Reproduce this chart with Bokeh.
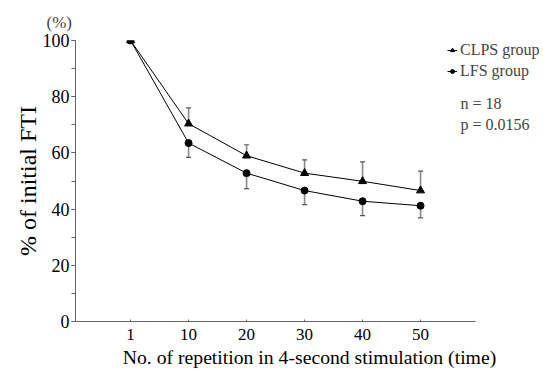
import numpy as np
from bokeh.plotting import figure
from bokeh.models import Label, Legend, LegendItem, FixedTicker, ColumnDataSource
from bokeh.embed import file_html
from bokeh.resources import INLINE

# ---- data ----
x_labels = ["1", "10", "20", "30", "40", "50"]
clps = [100, 70.4, 59.0, 52.8, 49.9, 46.6]
clps_err = [0, 5.6, 3.9, 4.7, 6.9, 6.9]
lfs = [100, 63.5, 52.8, 46.6, 42.8, 41.2]
lfs_err = [0, 5.1, 5.5, 5.0, 5.1, 4.3]
y_ticks = [0, 20, 40, 60, 80, 100]

FONT = "Liberation Serif"
AX = "#666666"

xs = np.arange(1, len(x_labels) + 1)

p = figure(width=543, height=370, output_backend="svg", toolbar_location=None,
           x_range=(0.05, 8.12), y_range=(0, 100),
           min_border_left=75, min_border_right=0, min_border_top=40, min_border_bottom=49)
p.outline_line_color = None
p.xgrid.visible = False
p.ygrid.visible = False

p.title.text = "(%)"
p.title.text_font = FONT
p.title.text_font_size = "17px"
p.title.text_font_style = "normal"
p.title.align = "left"
p.title.offset = -29
p.title.standoff = 17

# axes
xa = p.xaxis[0]
xa.ticker = FixedTicker(ticks=list(xs))
xa.major_label_overrides = {int(x): l for x, l in zip(xs, x_labels)}
xa.bounds = (0.05, 6.95)
xa.minor_tick_line_color = None
xa.major_tick_in = 2
xa.major_tick_out = 0
xa.axis_line_color = AX
xa.major_tick_line_color = AX
xa.major_label_text_font = FONT
xa.major_label_text_font_size = "17px"
xa.major_label_text_color = "black"
xa.major_label_standoff = 7
xa.axis_label = "No. of repetition in 4-second stimulation (time)"
xa.axis_label_text_font = FONT
xa.axis_label_text_font_size = "19.7px"
xa.axis_label_text_font_style = "normal"
xa.axis_label_text_color = "black"
xa.axis_label_standoff = 3

ya = p.yaxis[0]
ya.ticker = FixedTicker(ticks=y_ticks, minor_ticks=list(range(0, 101, 10)))
ya.axis_line_color = AX
ya.major_tick_line_color = AX
ya.minor_tick_line_color = AX
ya.major_tick_in = 0
ya.major_tick_out = 4
ya.minor_tick_in = 0
ya.minor_tick_out = 4
ya.major_label_text_font = FONT
ya.major_label_text_font_size = "18px"
ya.major_label_text_color = "black"
ya.major_label_standoff = 2
ya.axis_label = "% of initial FTI"
ya.axis_label_text_font = FONT
ya.axis_label_text_font_size = "24px"
ya.axis_label_text_font_style = "normal"
ya.axis_label_text_color = "black"
ya.axis_label_standoff = -1

# error bars
ce = np.array(clps_err)
le = np.array(lfs_err)
cm = ce > 0
lm = le > 0
csrc = ColumnDataSource(dict(x=xs[cm], y0=np.array(clps)[cm], y1=np.array(clps)[cm] + ce[cm]))
lsrc = ColumnDataSource(dict(x=xs[lm], y0=np.array(lfs)[lm], y1=np.array(lfs)[lm] - le[lm]))
for src in (csrc, lsrc):
    p.segment(x0="x", y0="y0", x1="x", y1="y1", source=src, line_color="#888888", line_width=1.6)
    p.scatter(x="x", y="y1", source=src, marker="dash", size=5, line_color="#555555", line_width=1.2)

# series
l1 = p.line(xs, clps, line_color="black", line_width=1)
m1 = p.scatter(xs, clps, marker="triangle", size=8, fill_color="black", line_color="black")
l2 = p.line(xs, lfs, line_color="black", line_width=1)
m2 = p.scatter(xs, lfs, marker="circle", size=7, fill_color="black", line_color="black")

legend = Legend(items=[LegendItem(label="CLPS group", renderers=[l1, m1]),
                       LegendItem(label="LFS group", renderers=[l2, m2])],
                location=(372, 240), padding=0, margin=0, spacing=1,
                glyph_width=10, glyph_height=20, label_height=20, label_standoff=3,
                label_text_font=FONT, label_text_font_size="16px",
                border_line_color=None, background_fill_alpha=0)
p.add_layout(legend, "center")

p.add_layout(Label(x=6.69, y=77.6, text="n = 18", text_font=FONT, text_font_size="16px",
                   text_baseline="middle", text_align="left"))
p.add_layout(Label(x=6.69, y=70.1, text="p = 0.0156", text_font=FONT, text_font_size="16px",
                   text_baseline="middle", text_align="left"))

open("out.html", "w").write(file_html(p, INLINE))
